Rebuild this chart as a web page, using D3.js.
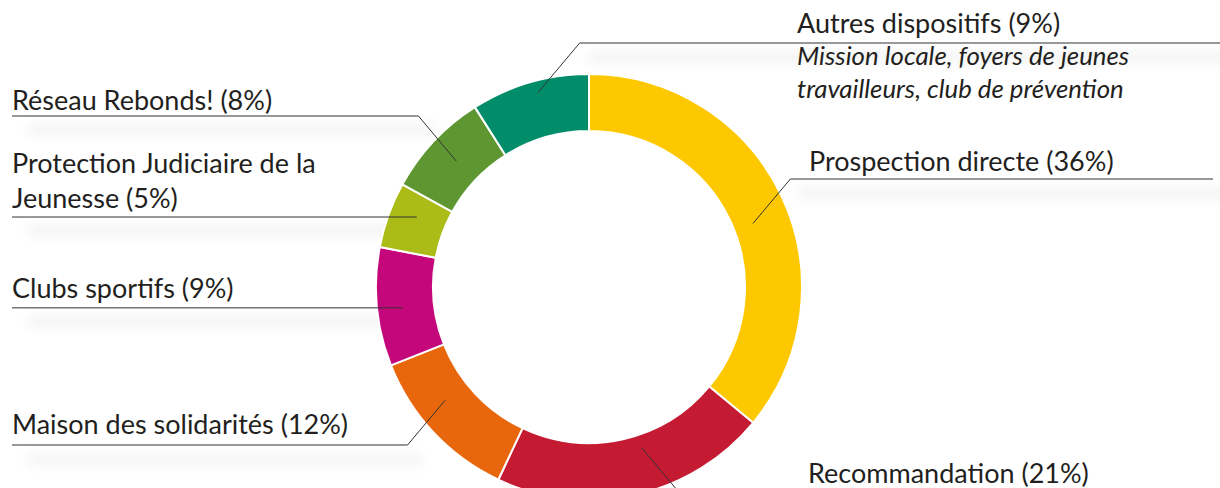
<!DOCTYPE html>
<html lang="fr">
<head>
<meta charset="utf-8">
<script src="https://cdn.jsdelivr.net/npm/d3@7"></script>
<style>
  html, body { margin: 0; padding: 0; background: #fff; }
  svg { display: block; }
  text { font-family: Lato, "Open Sans", sans-serif; fill: #231f20; }
</style>
</head>
<body>
<svg id="chart" width="1220" height="488"></svg>
<script>
// Sources of orientation, in drawing order (clockwise from 12 o'clock)
const categories = [
  "Prospection directe",
  "Recommandation",
  "Maison des solidarités",
  "Clubs sportifs",
  "Protection Judiciaire de la Jeunesse",
  "Réseau Rebonds!",
  "Autres dispositifs"
];
const shares = [36, 21, 12, 9, 5, 8, 9];
const colors = ["#fdc800", "#c41a32", "#e9670c", "#c4077a", "#abbb17", "#5e9732", "#018d69"];
const autresDetail = ["Mission locale, foyers de jeunes", "travailleurs, club de prévention"];

// Label placement: side, height of the rule, text baselines,
// leader anchor nudge (degrees) and radius
const labelLayout = [
  { side: "right", lineY: 179, textX: 809, baselines: [171], nudge: 4,   r: 176, lineEnd: 1213 },
  { side: "right", lineY: 494, textX: 808, baselines: [483], nudge: -5.5, r: 169, lineEnd: 1213 },
  { side: "left",  lineY: 445, textX: 12,  baselines: [434], nudge: 5,   r: 183, lineEnd: 12 },
  { side: "left",  lineY: null, textX: 12, baselines: [298], nudge: -1,  r: 187, lineEnd: 12 },
  { side: "left",  lineY: null, textX: 12, baselines: [173, 208], nudge: 2.3, r: 186, lineEnd: 12, breakAfter: 4 },
  { side: "left",  lineY: 116, textX: 12,  baselines: [110], nudge: 0.3, r: 183, lineEnd: 12 },
  { side: "right", lineY: 43,  textX: 797, baselines: [33], nudge: 1.5, r: 201, lineEnd: 1220 }
];

const svg = d3.select("#chart");
const cx = 589, cy = 287;
const outerR = 213, innerR = 156;

const defs = svg.append("defs");
defs.append("filter").attr("id", "soft")
  .attr("x", "-10%").attr("y", "-300%").attr("width", "120%").attr("height", "700%")
  .append("feGaussianBlur").attr("stdDeviation", 6);

const pie = d3.pie().sort(null).value(d => d)(shares);
const arc = d3.arc().innerRadius(innerR).outerRadius(outerR);

// Leader geometry derived from each slice
const leaders = pie.map((p, i) => {
  const L = labelLayout[i];
  const a = (p.startAngle + p.endAngle) / 2 + L.nudge * Math.PI / 180;
  const ax = cx + L.r * Math.sin(a);
  const ay = cy - L.r * Math.cos(a);
  const lineY = L.lineY == null ? ay : L.lineY;
  const slope = 0.84;
  const dir = L.side === "right" ? 1 : -1;
  const ex = ax + dir * slope * Math.abs(lineY - ay);
  return { ax, ay, ex, ey: lineY, L };
});

// Soft shadow bands under the rules
const shadows = svg.append("g").attr("filter", "url(#soft)");
leaders.forEach(g => {
  const x0 = g.L.side === "left" ? 28 : g.ex + 8;
  const x1 = g.L.side === "left" ? g.ex + 15 : 1250;
  shadows.append("rect")
    .attr("x", x0).attr("y", g.ey + 8)
    .attr("width", x1 - x0).attr("height", 12)
    .attr("fill", "#000").attr("fill-opacity", 0.045);
});

// Donut ring
svg.append("g").attr("transform", `translate(${cx},${cy})`)
  .selectAll("path").data(pie).join("path")
  .attr("d", arc)
  .attr("fill", (d, i) => colors[i])
  .attr("stroke", "#fff").attr("stroke-width", 2).attr("stroke-linejoin", "round");

// Leader lines
const lines = svg.append("g").attr("fill", "none").attr("stroke", "#333").attr("stroke-width", 1);
leaders.forEach(g => {
  lines.append("path")
    .attr("d", d3.line()([[g.ax, g.ay], [g.ex, g.ey], [g.L.lineEnd, g.ey]]));
});

// Labels
const labels = svg.append("g").attr("font-size", 27);
categories.forEach((c, i) => {
  const L = labelLayout[i];
  const full = `${c} (${shares[i]}%)`;
  let rows = [full];
  if (L.breakAfter) {
    const w = full.split(" ");
    rows = [w.slice(0, L.breakAfter).join(" "), w.slice(L.breakAfter).join(" ")];
  }
  rows.forEach((t, k) => {
    labels.append("text").attr("x", L.textX).attr("y", L.baselines[k]).text(t);
  });
});
autresDetail.forEach((t, k) => {
  labels.append("text")
    .attr("x", 797).attr("y", 65 + k * 32.5)
    .attr("font-style", "italic")
    .attr("font-size", 25.8)
    .attr("fill", "#333")
    .text(t);
});
</script>
</body>
</html>
